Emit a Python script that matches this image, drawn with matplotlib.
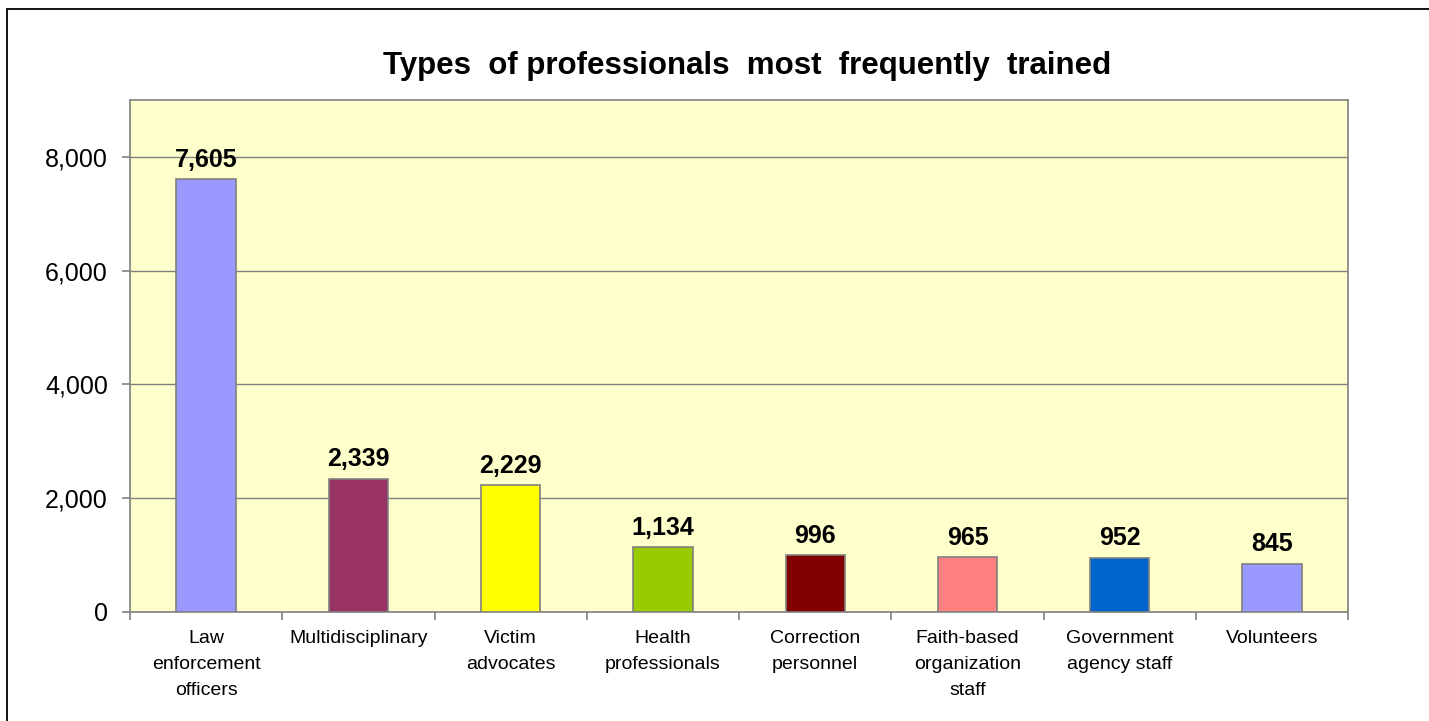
import matplotlib
matplotlib.use("Agg")
import matplotlib.pyplot as plt
from matplotlib.patches import Rectangle
from matplotlib.ticker import FuncFormatter, FixedLocator

plt.rcParams['font.family'] = ['Liberation Sans', 'DejaVu Sans']

# data
categories = ["Law\nenforcement\nofficers", "Multidisciplinary", "Victim\nadvocates",
              "Health\nprofessionals", "Correction\npersonnel",
              "Faith-based\norganization\nstaff", "Government\nagency staff", "Volunteers"]
values = [7605, 2339, 2229, 1134, 996, 965, 952, 845]
bar_colors = ["#9999FF", "#993366", "#FFFF00", "#99CC00", "#800000",
              "#FF8080", "#0066CC", "#9999FF"]
y_ticks = [0, 2000, 4000, 6000, 8000]

fig = plt.figure(figsize=(14.29, 7.21), dpi=100)
ax = fig.add_axes([0.091, 0.1512, 0.8524, 0.7101])
ax.set_facecolor("#FFFFCC")

# outer frame of the chart
fig.patches.append(Rectangle((0.0049, -0.2), 1.5, 0.9875 + 0.2, transform=fig.transFigure,
                             fill=False, edgecolor="black", linewidth=1.3))

x = list(range(len(values)))
bars = ax.bar(x, values, width=0.39, color=bar_colors, edgecolor="#808080",
              linewidth=1.2, zorder=3)

for xi, v in zip(x, values):
    ax.annotate(f"{v:,}", (xi, v), xytext=(0, 9), textcoords="offset points",
                ha="center", va="baseline", fontsize=18, fontweight="bold", zorder=4)

ax.set_xlim(-0.5, len(values) - 0.5)
ax.set_ylim(0, 9000)
ax.set_yticks(y_ticks)
ax.yaxis.set_major_formatter(FuncFormatter(lambda v, p: f"{int(v):,}"))
ax.grid(axis="y", color="#808080", linewidth=1.0, zorder=1)

ax.set_xticks(x)
ax.set_xticklabels(categories, fontsize=14, linespacing=1.68)
ax.xaxis.set_minor_locator(FixedLocator([i - 0.5 for i in range(len(values) + 1)]))
ax.tick_params(axis="x", which="major", length=0, pad=13)
ax.tick_params(axis="x", which="minor", length=6, color="#808080", width=1.2)
ax.tick_params(axis="y", length=6, color="#808080", width=1.2, labelsize=18, pad=10)

for s in ax.spines.values():
    s.set_color("#808080")
    s.set_linewidth(1.2)

fig.text(0.523, 0.908, "Types  of professionals  most  frequently  trained",
         ha="center", va="center", fontsize=22.5, fontweight="bold")

fig.savefig("out.png", dpi=100)
